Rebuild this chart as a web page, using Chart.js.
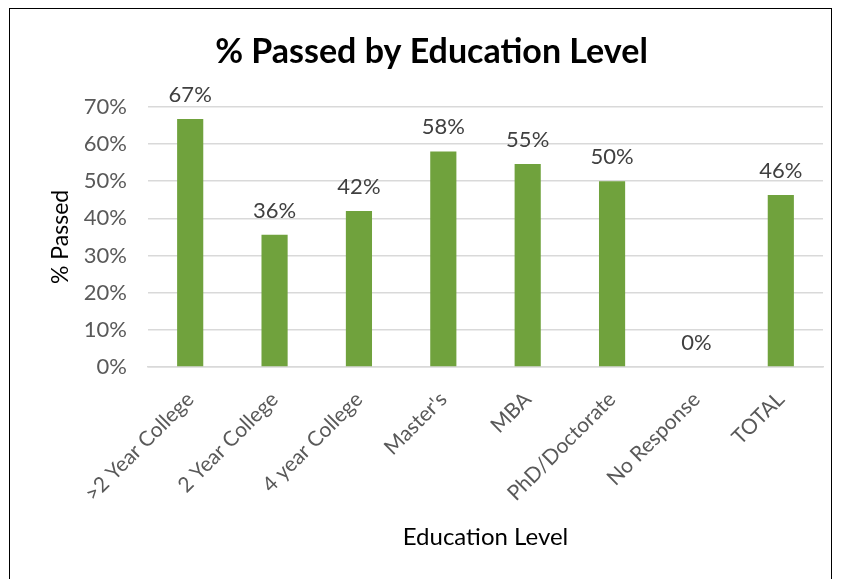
<!DOCTYPE html>
<html>
<head>
<meta charset="utf-8">
<script src="https://cdn.jsdelivr.net/npm/chart.js@4"></script>
<style>
    html, body { margin: 0; padding: 0; background: #fff; }
    .frame {
        position: absolute; left: 9px; top: 8px; width: 823px; height: 600px;
        border: 1.5px solid #000; box-sizing: border-box;
    }
    .wrap { position: absolute; left: 0; top: 0; width: 841px; height: 579px; }
</style>
</head>
<body>
<div class="frame"></div>
<div class="wrap"><canvas id="passChart" width="841" height="579"></canvas></div>
<script>
// Values
const categories = ['>2 Year College', '2 Year College', '4 year College', "Master's", 'MBA', 'PhD/Doctorate', 'No Response', 'TOTAL'];
const passedPct = [66.7, 35.6, 42.0, 58.0, 54.6, 50.0, 0, 46.3];
const yTicks = [0, 10, 20, 30, 40, 50, 60, 70];

const FONT = "Lato, 'Open Sans', sans-serif";

// Draws the rounded % labels above each bar
const barLabels = {
    id: 'barLabels',
    afterDatasetsDraw(chart) {
        const ctx = chart.ctx;
        const meta = chart.getDatasetMeta(0);
        ctx.save();
        ctx.font = '22px ' + FONT;
        ctx.fillStyle = '#404040';
        ctx.textAlign = 'center';
        ctx.textBaseline = 'bottom';
        meta.data.forEach((bar, i) => {
            ctx.fillText(Math.round(passedPct[i]) + '%', bar.x, bar.y - 13);
        });
        ctx.restore();
    }
};

new Chart(document.getElementById('passChart'), {
    type: 'bar',
    data: {
        labels: categories,
        datasets: [{
            label: '% Passed',
            data: passedPct,
            backgroundColor: '#70a23d',
            barPercentage: 0.31,
            categoryPercentage: 1
        }]
    },
    options: {
        responsive: false,
        animation: false,
        layout: { padding: { left: 40, right: 18, top: 0, bottom: 0 } },
        plugins: {
            legend: { display: false },
            tooltip: { enabled: false },
            title: {
                display: true,
                text: '% Passed by Education Level',
                color: '#000',
                font: { family: FONT, size: 34, weight: 'bold' },
                padding: { top: 32, bottom: 34 }
            }
        },
        scales: {
            y: {
                min: 0,
                max: 70,
                afterBuildTicks: axis => { axis.ticks = yTicks.map(v => ({ value: v })); },
                afterFit: axis => { axis.width = 108; },
                grid: { color: '#d9d9d9', lineWidth: 1.5, drawTicks: false },
                border: { display: false },
                ticks: {
                    color: '#595959',
                    font: { family: FONT, size: 22 },
                    padding: 21,
                    callback: v => v + '%'
                },
                title: {
                    display: true,
                    text: '% Passed',
                    color: '#000',
                    font: { family: FONT, size: 23 },
                    padding: { top: 7, bottom: 0 }
                }
            },
            x: {
                afterFit: axis => { axis.height = 212; },
                grid: { display: false, drawTicks: false },
                border: { color: '#d9d9d9', width: 1.5 },
                ticks: {
                    color: '#595959',
                    font: { family: FONT, size: 21 },
                    maxRotation: 45,
                    minRotation: 45,
                    padding: 20
                },
                title: {
                    display: true,
                    text: 'Education Level',
                    color: '#000',
                    font: { family: FONT, size: 24 },
                    padding: { top: 4, bottom: 27 }
                }
            }
        }
    },
    plugins: [barLabels]
});
</script>
</body>
</html>
